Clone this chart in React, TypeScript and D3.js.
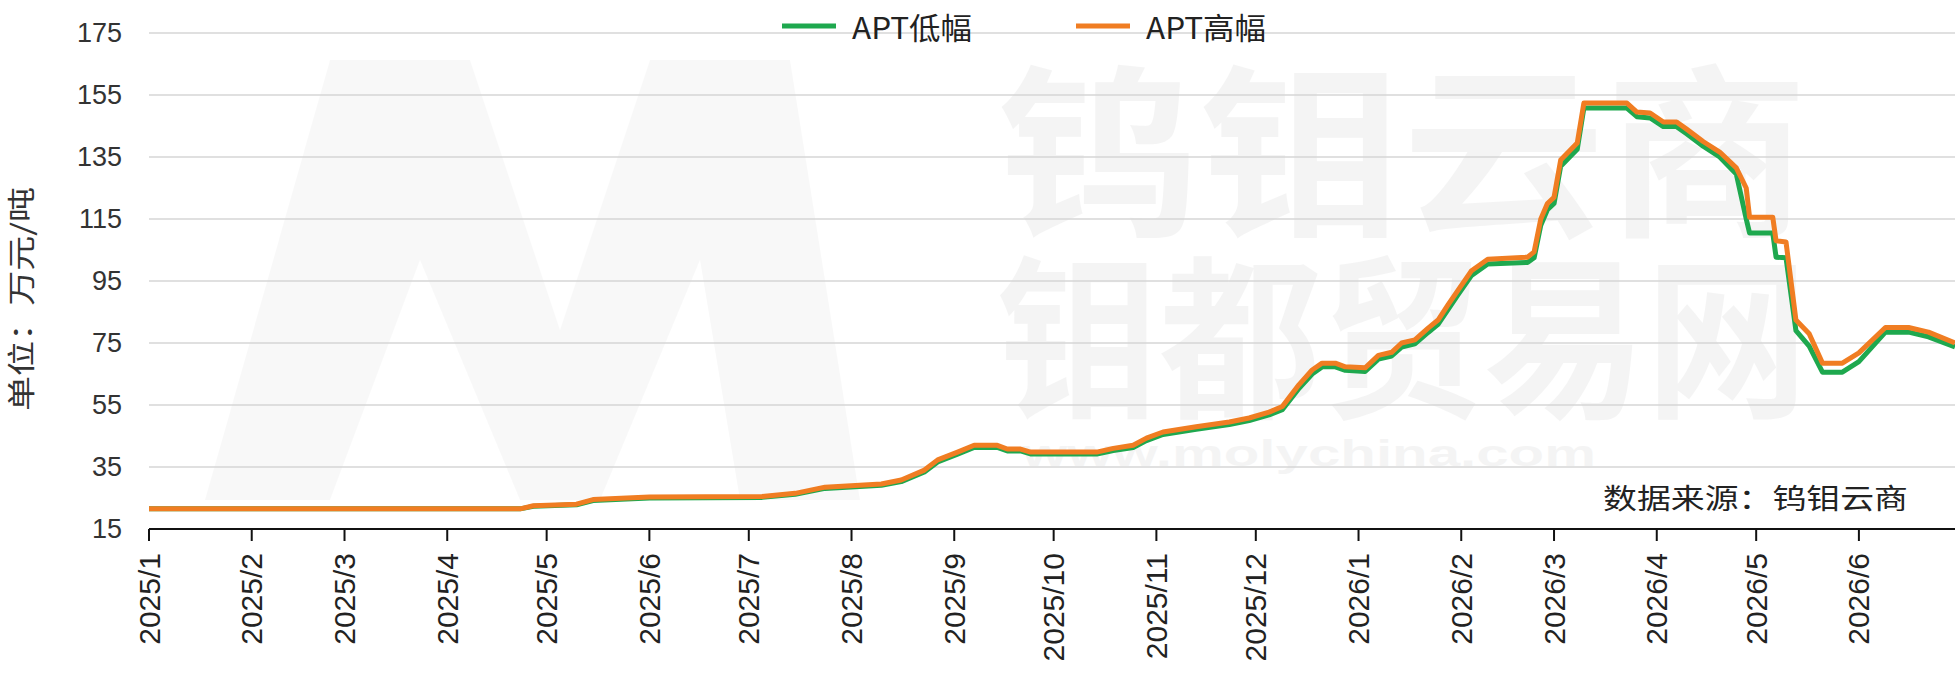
import React from "react";
import * as d3 from "d3";

// APT price range, 万元/吨
const dates = [
  "2025-01-01", "2025-04-23", "2025-04-27", "2025-05-10", "2025-05-15", "2025-06-01",
  "2025-07-05", "2025-07-15", "2025-07-24", "2025-08-10", "2025-08-16", "2025-08-23",
  "2025-08-27", "2025-09-02", "2025-09-07", "2025-09-14", "2025-09-17", "2025-09-21",
  "2025-09-24", "2025-10-14", "2025-10-19", "2025-10-25", "2025-10-29", "2025-11-03",
  "2025-11-13", "2025-11-23", "2025-11-29", "2025-12-05", "2025-12-09", "2025-12-11",
  "2025-12-14", "2025-12-18", "2025-12-21", "2025-12-25", "2025-12-28", "2026-01-03",
  "2026-01-07", "2026-01-11", "2026-01-14", "2026-01-18", "2026-01-22", "2026-01-25",
  "2026-01-28", "2026-01-31", "2026-02-04", "2026-02-09", "2026-02-21", "2026-02-23",
  "2026-02-25", "2026-02-27", "2026-03-01", "2026-03-03", "2026-03-08", "2026-03-10",
  "2026-03-23", "2026-03-26", "2026-03-30", "2026-04-03", "2026-04-07", "2026-04-10",
  "2026-04-15", "2026-04-20", "2026-04-25", "2026-04-28", "2026-04-29", "2026-05-06",
  "2026-05-07", "2026-05-10", "2026-05-13", "2026-05-17", "2026-05-21", "2026-05-27",
  "2026-06-01", "2026-06-09", "2026-06-16", "2026-06-22", "2026-06-30",
];

const highValues = [
  21.5, 21.5, 22.5, 23, 24.5, 25.3,
  25.5, 26.5, 28.5, 29.5, 30.8, 34,
  37.3, 39.8, 42, 42, 40.8, 40.8,
  39.8, 39.8, 41, 42, 44.3, 46.3,
  48, 49.5, 50.8, 52.7, 54.5, 57.3,
  61.5, 66.3, 68.5, 68.5, 67.3, 67,
  71, 72, 75, 76, 79.8, 82.4,
  87.3, 92, 98.2, 102, 102.7, 104.4,
  115, 120, 122, 134, 139.5, 152.4,
  152.4, 149.5, 149.2, 146.3, 146.3, 144,
  140, 136.6, 131.5, 125, 115.6, 115.6,
  108, 107.6, 82.4, 78, 68.5, 68.5,
  71.8, 80, 80, 78.5, 75,
];

const lowValues = [
  21.5, 21.5, 22.3, 22.8, 24.2, 25,
  25.2, 26.2, 28.1, 29.1, 30.3, 33.4,
  36.6, 39.1, 41.3, 41.3, 40.2, 40.2,
  39.2, 39.2, 40.3, 41.3, 43.5, 45.5,
  47.2, 48.7, 50, 51.8, 53.5, 56.2,
  60.3, 65, 67.3, 67.3, 66.2, 65.8,
  69.8, 70.8, 73.7, 74.7, 78.4, 81,
  85.8, 90.5, 96.7, 100.5, 101, 102.5,
  113, 118, 120, 132, 137.5, 150.8,
  150.8, 148, 147.6, 144.8, 144.8, 142.5,
  138.5, 135, 129.5, 115, 110.5, 110.5,
  102.7, 102.5, 79, 74, 65.6, 65.6,
  69, 78.5, 78.5, 77, 73.7,
];

const seriesNames = ["APT低幅", "APT高幅"];
const seriesColors = ["#1ea84e", "#f07d22"];

const yTicks = [15, 35, 55, 75, 95, 115, 135, 155, 175];
const monthLabels = [
  "2025/1", "2025/2", "2025/3", "2025/4", "2025/5", "2025/6", "2025/7", "2025/8", "2025/9",
  "2025/10", "2025/11", "2025/12", "2026/1", "2026/2", "2026/3", "2026/4", "2026/5", "2026/6",
];

const W = 1955;
const H = 685;
const margin = { top: 33, right: 0, bottom: 156, left: 149 };

const CJK = "'Noto Sans CJK SC', 'Noto Sans', sans-serif";
const LATIN = "'Liberation Sans', Arial, sans-serif";

export default function App() {
  const parse = d3.timeParse("%Y-%m-%d");
  const parseMonth = d3.timeParse("%Y/%m");
  const x = d3
    .scaleTime()
    .domain([parse("2025-01-01") as Date, parse("2026-06-30") as Date])
    .range([margin.left, W - margin.right]);
  const y = d3
    .scaleLinear()
    .domain([15, 175])
    .range([H - margin.bottom, margin.top]);

  const line = d3
    .line<number>()
    .x((_, i) => x(parse(dates[i]) as Date))
    .y((d) => y(d));

  const series = [lowValues, highValues];
  const baseY = y(15);

  return (
    <svg
      width={W}
      height={H}
      style={{ position: "absolute", left: 0, top: 0, background: "#fff" }}
    >
      {/* watermark */}
      <g fill="#000">
        <path
          opacity={0.028}
          d="M 205 500 L 330 60 L 470 60 L 560 330 L 650 60 L 790 60 L 860 500 L 740 500 L 700 260 L 600 500 L 520 500 L 420 260 L 330 500 Z"
        />
        <g opacity={0.04}>
          <text x={997} y={222} fontFamily={CJK} fontSize={185} fontWeight="bold" textLength={811} lengthAdjust="spacingAndGlyphs">钨钼云商</text>
          <text x={997} y={404} fontFamily={CJK} fontSize={175} fontWeight="bold" textLength={811} lengthAdjust="spacingAndGlyphs">钼都贸易网</text>
          <text x={1022} y={466} fontFamily={LATIN} fontSize={36} fontWeight="bold" textLength={574} lengthAdjust="spacingAndGlyphs">www.molychina.com</text>
        </g>
      </g>

      {/* grid */}
      {yTicks.slice(1).map((t) => (
        <line key={t} x1={margin.left} x2={W - margin.right} y1={y(t)} y2={y(t)} stroke="#d6d6d6" strokeWidth={1.5} />
      ))}

      {/* y labels */}
      {yTicks.map((t) => (
        <text key={t} x={122} y={y(t)} textAnchor="end" dominantBaseline="central" fontFamily={LATIN} fontSize={27} fill="#333">
          {t}
        </text>
      ))}

      <text
        transform={`translate(20,${(187 + 411) / 2}) rotate(-90)`}
        textAnchor="middle"
        dominantBaseline="central"
        fontFamily={CJK}
        fontSize={28}
        fill="#333"
        textLength={224}
        lengthAdjust="spacingAndGlyphs"
      >
        单位：万元/吨
      </text>

      {/* series */}
      {series.map((vals, i) => (
        <path key={i} d={line(vals) || ""} fill="none" stroke={seriesColors[i]} strokeWidth={5} strokeLinejoin="round" />
      ))}

      {/* x axis */}
      <line x1={margin.left} x2={W} y1={baseY} y2={baseY} stroke="#111" strokeWidth={2} />
      {monthLabels.map((m) => {
        const tx = x(parseMonth(m) as Date);
        return (
          <g key={m}>
            <line x1={tx} x2={tx} y1={baseY} y2={baseY + 12} stroke="#111" strokeWidth={2} />
            <text
              transform={`translate(${tx},553) rotate(-90)`}
              textAnchor="end"
              dominantBaseline="central"
              fontFamily={LATIN}
              fontSize={30}
              fill="#222"
            >
              {m}
            </text>
          </g>
        );
      })}

      {/* legend */}
      {seriesNames.map((name, i) => {
        const lx = [782, 1076][i];
        return (
          <g key={name}>
            <line x1={lx} x2={lx + 54} y1={26} y2={26} stroke={seriesColors[i]} strokeWidth={5} />
            <text
              x={lx + 70}
              y={26}
              dominantBaseline="central"
              fontFamily={CJK}
              fontSize={30}
              fill="#222"
              textLength={120}
              lengthAdjust="spacingAndGlyphs"
            >
              {name}
            </text>
          </g>
        );
      })}

      <text
        x={1603}
        y={497}
        dominantBaseline="central"
        fontFamily={CJK}
        fontSize={28}
        fill="#222"
        textLength={305}
        lengthAdjust="spacingAndGlyphs"
      >
        数据来源：钨钼云商
      </text>
    </svg>
  );
}
